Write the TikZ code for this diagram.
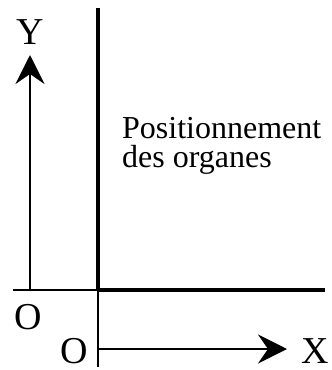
\documentclass[tikz,border=0pt]{standalone}
\usepackage{fontspec}
\setmainfont{Liberation Serif}
\usetikzlibrary{arrows.meta}
\tikzset{
  thickline/.style={line width=4.3pt},
  thinline/.style={line width=2.4pt},
  axisarrow/.style={line width=2.4pt,-{Stealth[length=29pt,width=29pt,inset=10pt]}},
  axlabel/.style={inner sep=0pt,anchor=base,font=\fontsize{38}{38}\selectfont},
  bodytext/.style={inner sep=0pt,anchor=base west,font=\fontsize{32}{32}\selectfont}
}
\begin{document}
\begin{tikzpicture}[x=1pt,y=-1pt]
\useasboundingbox (0,0) rectangle (332,370);
% key points
\coordinate (vtop) at (98,8);
\coordinate (corner) at (98,290);
\coordinate (vbot) at (98,367);
\coordinate (hleft) at (13,290);
\coordinate (hright) at (325,290);
\coordinate (ybase) at (30,290);
\coordinate (ytip) at (30,55);
\coordinate (xstart) at (98,349);
\coordinate (xtip) at (287,349);
% frame lines
\draw[thickline] (vtop) -- (corner);
\draw[thickline] (corner) -- (hright);
\draw[thinline] (hleft) -- (corner);
\draw[thinline] (corner) -- (vbot);
% axes
\draw[axisarrow] (ybase) -- (ytip);
\draw[axisarrow] (xstart) -- (xtip);
% labels
\node[axlabel] (ylab) at (30,44) {Y};
\node[axlabel] (o1) at (28.5,329) {O};
\node[axlabel] (o2) at (74,363) {O};
\node[axlabel] (xlab) at (315.5,363) {X};
\node[bodytext] (t1) at (122,138) {Positionnement};
\node[bodytext] (t2) at (122,167) {des organes};
\end{tikzpicture}
\end{document}
